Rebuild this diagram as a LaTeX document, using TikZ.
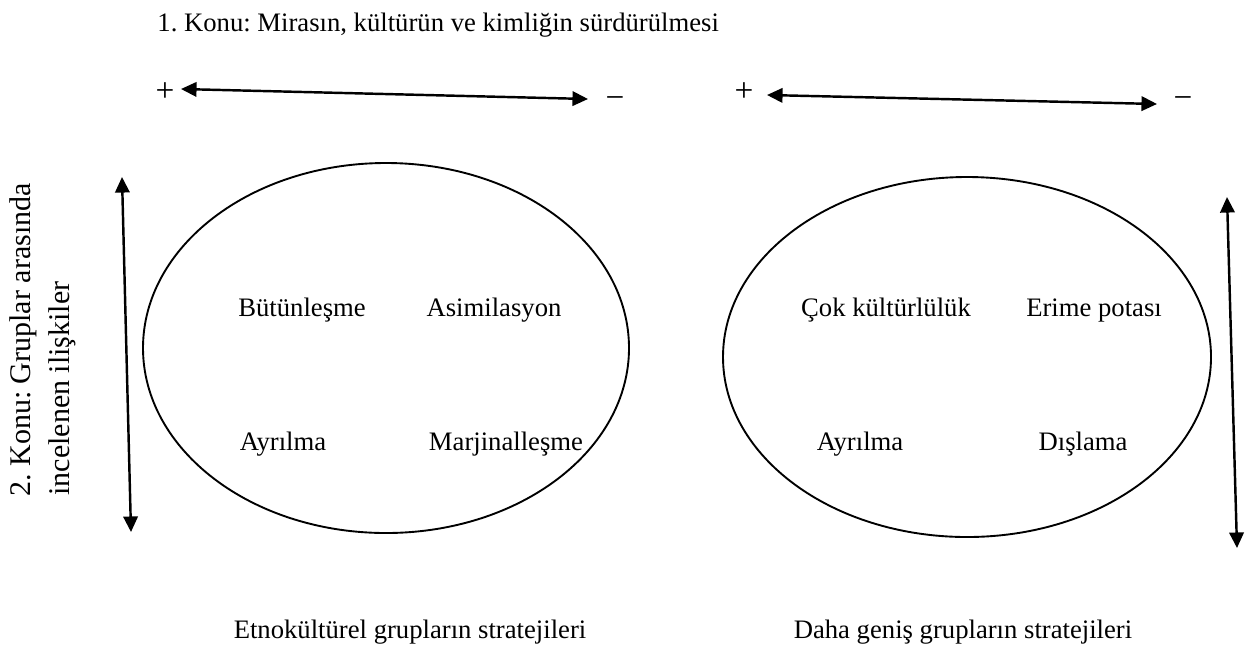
\documentclass[tikz,border=0pt]{standalone}
\usepackage{fontspec}
\setmainfont{Liberation Serif}
\usetikzlibrary{arrows.meta}
\frenchspacing

\begin{document}
\begin{tikzpicture}[x=0.45pt, y=-0.45pt, font=\fontsize{12}{14}\selectfont,
	twoway/.style={{Triangle[length=7pt,width=6.5pt]}-{Triangle[length=7pt,width=6.5pt]}, line width=1.1pt},
	oval/.style={line width=0.85pt},
	word/.style={anchor=base, inner sep=0pt},
	side/.style={rotate=90, anchor=base west, inner sep=0pt, font=\fontsize{13.5}{16}\selectfont},
	sign/.style={inner sep=0pt, font=\fontsize{15}{17}\selectfont}]
				\useasboundingbox (0,0) rectangle (1251,655);

				% Topic 1
				\node[anchor=base west, inner sep=0pt] (konuA) at (157,31) {1. Konu: Mirasın, kültürün ve kimliğin sürdürülmesi};

				% Topic 2
				\node[side] (konuB) at (30,497) {2. Konu: Gruplar arasında};
				\node[side] (konuC) at (69,496) {incelenen ilişkiler};

				% Left scale
				\node[sign] (plusA) at (165,92) {+};
				\node[sign] (minusA) at (615,103) {−};
				\coordinate (topA) at (181,89);
				\coordinate (endA) at (588,99);
				\draw[twoway] (topA) -- (endA);

				% Right scale
				\node[sign] (plusB) at (744,92) {+};
				\node[sign] (minusB) at (1183,103) {−};
				\coordinate (topB) at (767,95);
				\coordinate (endB) at (1157,104);
				\draw[twoway] (topB) -- (endB);

				% Vertical scales
				\coordinate (upA) at (122,177);
				\coordinate (downA) at (131,532);
				\draw[twoway] (upA) -- (downA);
				\coordinate (upB) at (1227,197);
				\coordinate (downB) at (1237,548);
				\draw[twoway] (upB) -- (downB);

				% Ethnocultural groups
				\draw[oval] (386,348) ellipse [x radius=243, y radius=185];
				\node[word] (butun) at (302,316) {Bütünleşme};
				\node[word] (asim) at (494,316) {Asimilasyon};
				\node[word] (ayrA) at (283,450) {Ayrılma};
				\node[word] (marj) at (506,450) {Marjinalleşme};
				\node[word] (etno) at (410,638) {Etnokültürel grupların stratejileri};

				% Larger society
				\draw[oval] (967,357) ellipse [x radius=244, y radius=180];
				\node[word] (cok) at (886,316) {Çok kültürlülük};
				\node[word] (erime) at (1094,316) {Erime potası};
				\node[word] (ayrB) at (860,450) {Ayrılma};
				\node[word] (dis) at (1083,450) {Dışlama};
				\node[word] (genis) at (963,638) {Daha geniş grupların stratejileri};
			\end{tikzpicture}
\end{document}
